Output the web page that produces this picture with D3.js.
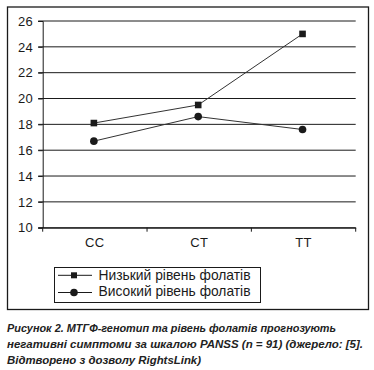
<!DOCTYPE html>
<html><head><meta charset="utf-8">
<script src="https://cdn.jsdelivr.net/npm/d3@7"></script>
<style>body{margin:0;background:#fff}svg{display:block}</style>
</head><body>
<script>
const categories = ["CC", "CT", "TT"];
const lowFolate = [18.1, 19.5, 25.0];
const highFolate = [16.7, 18.6, 17.6];
const yTicks = [10, 12, 14, 16, 18, 20, 22, 24, 26];
const seriesNames = ["Низький рівень фолатів", "Високий рівень фолатів"];
const captionLines = [
  "Рисунок 2. МТГФ-генотип та рівень фолатів прогнозують",
  "негативні симптоми за шкалою PANSS (n = 91) (джерело: [5].",
  "Відтворено з дозволу RightsLink)"
];
const captionWidths = [329, 356, 194];

const W = 374, H = 370;
const svg = d3.select("body").append("svg").attr("width", W).attr("height", H);
const font = "Liberation Sans, Arial, sans-serif";
const ink = "#1a1a1a";

// outer frame
svg.append("rect").attr("x", 7.5).attr("y", 7).attr("width", 361).attr("height", 302.5)
  .attr("fill", "none").attr("stroke", ink).attr("stroke-width", 1.3);

const L = 42.7, R = 355.7, T = 21, B = 227.7;
const x = d3.scaleBand().domain(categories).range([L, R]);
const y = d3.scaleLinear().domain([10, 26]).range([B, T]);

// grid
svg.append("g").selectAll("line").data(yTicks).join("line")
  .attr("x1", L - 4.5).attr("x2", R).attr("y1", d => y(d)).attr("y2", d => y(d))
  .attr("stroke", ink).attr("stroke-width", 1);

// y axis
const yAxis = d3.axisLeft(y).tickValues(yTicks).tickSize(4.5).tickPadding(5);
const gy = svg.append("g").attr("transform", `translate(${L},0)`).call(yAxis);
gy.select(".domain").attr("stroke", ink);
gy.selectAll("line").attr("stroke", ink);
gy.selectAll("text").attr("font-family", font).attr("font-size", 13).attr("letter-spacing", 0.4).attr("fill", ink);

// x axis
const xAxis = d3.axisBottom(x).tickSize(0).tickPadding(10);
const gx = svg.append("g").attr("transform", `translate(0,${B})`).call(xAxis);
gx.select(".domain").attr("stroke", ink);
gx.selectAll("text").attr("font-family", font).attr("font-size", 13).attr("letter-spacing", 0.4).attr("fill", ink);
// band boundary ticks
const bounds = categories.map(c => x(c)).concat([x(categories[2]) + x.bandwidth()]);
svg.append("g").selectAll("line").data(bounds).join("line")
  .attr("x1", d => d).attr("x2", d => d).attr("y1", B).attr("y2", B + 4)
  .attr("stroke", ink);

const cx = c => x(c) + x.bandwidth() / 2 - 1;
const line = d3.line().x((d, i) => cx(categories[i])).y(d => y(d));

svg.append("path").datum(lowFolate).attr("d", line).attr("fill", "none").attr("stroke", "#333").attr("stroke-width", 1);
svg.append("path").datum(highFolate).attr("d", line).attr("fill", "none").attr("stroke", "#333").attr("stroke-width", 1);

svg.append("g").selectAll("rect").data(lowFolate).join("rect")
  .attr("x", (d, i) => cx(categories[i]) - 3.3).attr("y", d => y(d) - 3.3)
  .attr("width", 6.6).attr("height", 6.6).attr("fill", ink);
svg.append("g").selectAll("circle").data(highFolate).join("circle")
  .attr("cx", (d, i) => cx(categories[i])).attr("cy", d => y(d)).attr("r", 3.8).attr("fill", ink);

// legend
const lg = svg.append("g");
lg.append("rect").attr("x", 54.5).attr("y", 267.5).attr("width", 206).attr("height", 35)
  .attr("fill", "none").attr("stroke", ink).attr("stroke-width", 1);
const rows = [275.3, 292.5];
seriesNames.forEach((n, i) => {
  lg.append("line").attr("x1", 58).attr("x2", 92).attr("y1", rows[i]).attr("y2", rows[i]).attr("stroke", ink);
  if (i === 0) lg.append("rect").attr("x", 71).attr("y", rows[i] - 3).attr("width", 6).attr("height", 6).attr("fill", ink);
  else lg.append("circle").attr("cx", 74).attr("cy", rows[i]).attr("r", 3.8).attr("fill", ink);
  lg.append("text").attr("x", 98.5).attr("y", i === 0 ? 279.7 : 295.6)
    .attr("font-family", font).attr("font-size", 14.3).attr("fill", ink)
    .attr("textLength", 152).attr("lengthAdjust", "spacingAndGlyphs").text(n);
});

// caption
captionLines.forEach((t, i) => {
  svg.append("text").attr("x", 7).attr("y", 331.5 + i * 16)
    .attr("font-family", font).attr("font-size", 11.5).attr("font-weight", "bold").attr("font-style", "italic")
    .attr("fill", "#222").attr("textLength", captionWidths[i]).attr("lengthAdjust", "spacingAndGlyphs").text(t);
});
</script>
</body></html>
